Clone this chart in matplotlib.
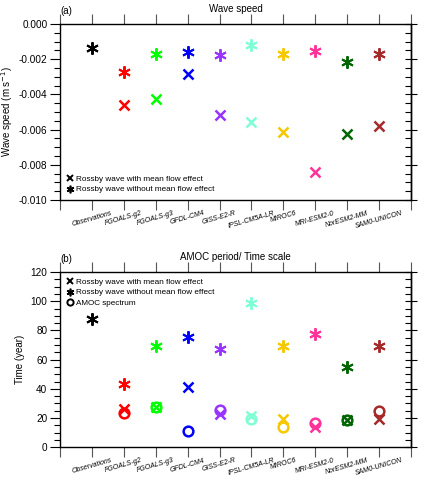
import matplotlib
matplotlib.use("Agg")
import matplotlib.pyplot as plt
from matplotlib.lines import Line2D
import numpy as np

plt.rcParams['font.family'] = ['Liberation Sans', 'DejaVu Sans']

models = ["Observations", "FGOALS-g2", "FGOALS-g3", "GFDL-CM4", "GISS-E2-R",
          "IPSL-CM5A-LR", "MIROC6", "MRI-ESM2-0", "NorESM2-MM", "SAM0-UNICON"]
colors = ["#000000", "#FF0000", "#00FF00", "#0000FF", "#9933FF",
          "#7FFFD4", "#F5C800", "#FF3399", "#006400", "#A52A2A"]

# Panel (a): wave speed (m s-1)
speed_with = [np.nan, -0.00460, -0.00424, -0.00284, -0.00515,
              -0.00559, -0.00614, -0.00843, -0.00627, -0.00581]
speed_without = [-0.00134, -0.00273, -0.00172, -0.00157, -0.00176,
                 -0.00117, -0.00169, -0.00152, -0.00216, -0.00169]

# Panel (b): time scale (year)
time_with = [np.nan, 26.0, 27.4, 41.5, 22.6, 21.5, 19.4, 13.7, 18.7, 19.6]
time_without = [87.6, 43.1, 69.4, 75.7, 67.3, 99.0, 69.6, 77.3, 55.0, 69.6]
time_amoc = [np.nan, 23.5, 27.4, 11.4, 25.3, 19.4, 14.1, 16.9, 18.7, 24.9]

STAR = (6, 2, 0)
fs_tick = 7.2
fs_lab = 7.0
fs_xt = 5.0
fs_leg = 5.9

fig = plt.figure(figsize=(4.25, 4.8), dpi=100)
axa = fig.add_axes([60/425, 1-200/480, 351/425, 176/480])
axb = fig.add_axes([60/425, 1-447.3/480, 351/425, 175.3/480])

x = np.arange(1, len(models)+1)

def style(ax, ymin, ymax, ymaj, ymin_step, fmt):
    ax.set_xlim(0, 11)
    ax.set_ylim(ymin, ymax)
    ax.set_xticks(np.arange(0, 12))
    ax.set_xticklabels([""] + models + [""], rotation=16, ha='center', va='top',
                       fontsize=fs_xt, style='italic')
    ax.set_yticks(np.arange(ymin, ymax + ymaj/2, ymaj))
    ax.set_yticks(np.arange(ymin, ymax + ymin_step/2, ymin_step), minor=True)
    ax.yaxis.set_major_formatter(matplotlib.ticker.FormatStrFormatter(fmt))
    ax.tick_params(axis='x', which='major', direction='out', length=7, width=0.8,
                   top=True, bottom=True, labeltop=False, pad=0, color='#555555')
    ax.tick_params(axis='y', which='major', direction='out', length=7, width=0.8,
                   left=True, right=False, labelsize=fs_tick, pad=2)
    ax.tick_params(axis='y', which='minor', direction='out', length=4, width=0.8,
                   left=True, right=False)
    sec = ax.secondary_yaxis('right')
    sec.set_yticks(np.arange(ymin, ymax + ymaj/2, ymaj))
    sec.set_yticks(np.arange(ymin, ymax + ymin_step/2, ymin_step), minor=True)
    sec.tick_params(axis='y', which='major', direction='inout', length=9, width=0.8,
                    labelright=False)
    sec.tick_params(axis='y', which='minor', direction='in', length=4, width=0.8)
    sec.set_yticklabels([])
    for sp in list(ax.spines.values()) + list(sec.spines.values()):
        sp.set_linewidth(1.0)

# Panel (a)
for i in range(len(models)):
    if not np.isnan(speed_with[i]):
        axa.plot(x[i], speed_with[i], marker='x', ms=7, mew=1.8, color=colors[i],
                 ls='none', clip_on=False)
    axa.plot(x[i], speed_without[i], marker=STAR, ms=9, mew=1.4, color=colors[i],
             ls='none', clip_on=False)
style(axa, -0.010, 0.000, 0.002, 0.0005, '%.3f')
axa.set_ylabel("Wave speed (m s$^{-1}$)", fontsize=fs_lab, labelpad=3)
axa.set_title("Wave speed", fontsize=fs_lab, pad=9)
axa.text(0.0, 1.045, "(a)", transform=axa.transAxes, fontsize=fs_lab,
         ha='left', va='bottom')
h_with = Line2D([], [], marker='x', ms=4.5, mew=1.4, color='k', ls='none')
h_without = Line2D([], [], marker=STAR, ms=5.5, mew=1.2, color='k', ls='none')
h_amoc = Line2D([], [], marker='o', ms=4.5, mew=1.4, mfc='none', color='k', ls='none')
axa.legend([h_with, h_without],
           ["Rossby wave with mean flow effect", "Rossby wave without mean flow effect"],
           loc='lower left', bbox_to_anchor=(0.0, 0.0), frameon=False,
           fontsize=fs_leg, handlelength=0.8, handletextpad=0.3,
           labelspacing=0.35, borderaxespad=0.4)

# Panel (b)
for i in range(len(models)):
    if not np.isnan(time_amoc[i]):
        axb.plot(x[i], time_amoc[i], marker='o', ms=7, mew=1.8, mfc='none',
                 color=colors[i], ls='none', clip_on=False)
    if not np.isnan(time_with[i]):
        axb.plot(x[i], time_with[i], marker='x', ms=7, mew=1.8, color=colors[i],
                 ls='none', clip_on=False)
    axb.plot(x[i], time_without[i], marker=STAR, ms=9, mew=1.4, color=colors[i],
             ls='none', clip_on=False)
style(axb, 0, 120, 20, 5, '%d')
axb.set_ylabel("Time (year)", fontsize=fs_lab, labelpad=4)
axb.set_title("AMOC period/ Time scale", fontsize=fs_lab, pad=9)
axb.text(0.0, 1.045, "(b)", transform=axb.transAxes, fontsize=fs_lab,
         ha='left', va='bottom')
axb.legend([h_with, h_without, h_amoc],
           ["Rossby wave with mean flow effect", "Rossby wave without mean flow effect",
            "AMOC spectrum"],
           loc='upper left', bbox_to_anchor=(0.0, 1.0), frameon=False,
           fontsize=fs_leg, handlelength=0.8, handletextpad=0.3,
           labelspacing=0.3, borderaxespad=0.4)

fig.savefig("out.png", dpi=100)
